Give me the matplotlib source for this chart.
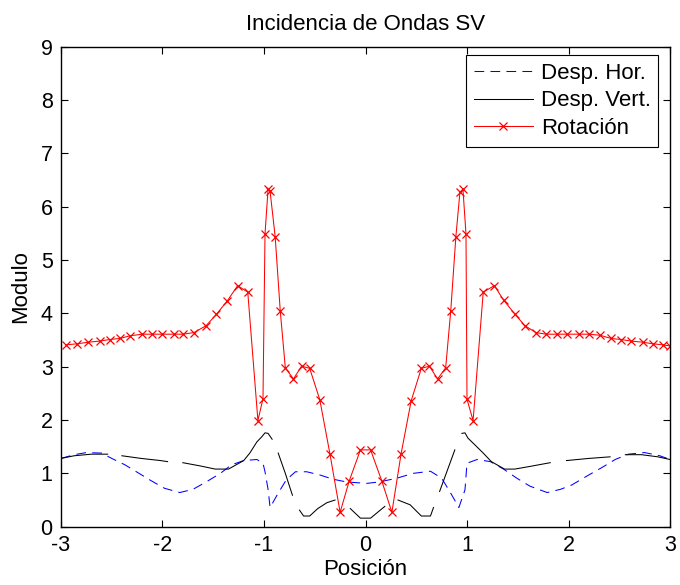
# -*- coding: utf-8 -*-
import matplotlib
matplotlib.use('Agg')
import matplotlib.pyplot as plt
import numpy as np

plt.rcParams['font.family'] = ['Liberation Sans', 'DejaVu Sans']
plt.rcParams['lines.scale_dashes'] = False

# Desplazamiento horizontal (línea azul discontinua)
pos_hor = [-3.0, -2.87, -2.75, -2.60, -2.50, -2.37, -2.24, -2.11, -1.98, -1.83,
           -1.70, -1.56, -1.43, -1.32, -1.20, -1.07, -1.01, -0.99, -0.96, -0.94,
           -0.86, -0.78, -0.69, -0.58, -0.45, -0.32, -0.19, -0.05, 0.0, 0.05,
           0.14, 0.31, 0.47, 0.64, 0.75, 0.83, 0.92, 0.98, 1.00, 1.10,
           1.23, 1.36, 1.49, 1.62, 1.79, 1.92, 2.03, 2.20, 2.33, 2.46,
           2.59, 2.75, 2.90, 3.0]
desp_hor = [1.28, 1.35, 1.39, 1.38, 1.28, 1.16, 1.01, 0.86, 0.72, 0.64,
            0.70, 0.85, 1.00, 1.16, 1.24, 1.26, 1.19, 1.03, 0.70, 0.36,
            0.63, 0.88, 1.03, 1.03, 0.97, 0.89, 0.84, 0.82, 0.81, 0.82,
            0.84, 0.91, 1.00, 1.04, 0.91, 0.66, 0.36, 0.69, 1.19, 1.26,
            1.22, 1.08, 0.91, 0.76, 0.64, 0.70, 0.78, 0.97, 1.11, 1.26,
            1.36, 1.39, 1.33, 1.26]

# Desplazamiento vertical (línea negra, con huecos)
nan = np.nan
pos_vert = [-3.0, -2.87, -2.70, -2.54, nan, -2.40, -2.21, -2.02, -1.95, nan,
            -1.80, -1.63, -1.48, -1.35, -1.20, -1.14, -1.07, -1.02, -0.99, -0.96,
            -0.92, nan, -0.86, -0.79, -0.72, nan, -0.65, -0.61, -0.55, -0.47,
            -0.38, -0.30, nan, -0.15, -0.05, 0.05, 0.19, nan, 0.32, 0.44,
            0.55, 0.64, 0.67, nan, 0.73, 0.88, nan, 0.95, 0.98, 1.01,
            1.08, 1.16, 1.24, 1.37, 1.47, 1.62, 1.82, nan, 1.98, 2.20,
            2.41, nan, 2.56, 2.72, 2.88, 3.0]
desp_vert = [1.28, 1.33, 1.36, 1.36, nan, 1.33, 1.28, 1.24, 1.22, nan,
             1.20, 1.14, 1.08, 1.08, 1.24, 1.38, 1.59, 1.69, 1.76, 1.75,
             1.64, nan, 1.38, 1.00, 0.59, nan, 0.31, 0.20, 0.20, 0.34,
             0.45, 0.50, nan, 0.34, 0.16, 0.16, 0.38, nan, 0.50, 0.41,
             0.20, 0.20, 0.36, nan, 0.66, 1.44, nan, 1.75, 1.76, 1.66,
             1.53, 1.38, 1.22, 1.08, 1.08, 1.13, 1.20, nan, 1.24, 1.28,
             1.31, nan, 1.35, 1.35, 1.31, 1.26]

# Rotación (línea roja con marcadores x)
pos_rot = [-2.95, -2.84, -2.73, -2.62, -2.52, -2.42, -2.32, -2.20, -2.10, -2.00,
           -1.89, -1.80, -1.69, -1.57, -1.47, -1.36, -1.26, -1.16, -1.06, -1.01,
           -0.99, -0.96, -0.94, -0.89, -0.84, -0.79, -0.71, -0.63, -0.55, -0.45,
           -0.35, -0.25, -0.16, -0.05, 0.05, 0.16, 0.26, 0.35, 0.45, 0.55,
           0.63, 0.71, 0.79, 0.84, 0.89, 0.93, 0.96, 0.99, 1.00, 1.06,
           1.16, 1.27, 1.36, 1.47, 1.57, 1.68, 1.78, 1.89, 1.99, 2.10,
           2.20, 2.31, 2.42, 2.52, 2.62, 2.73, 2.83, 2.93, 3.0]
rotacion = [3.41, 3.43, 3.46, 3.48, 3.51, 3.53, 3.58, 3.61, 3.61, 3.61,
            3.61, 3.61, 3.64, 3.77, 3.98, 4.24, 4.52, 4.40, 1.99, 2.40,
            5.49, 6.33, 6.29, 5.44, 4.05, 2.98, 2.77, 3.01, 2.97, 2.38,
            1.36, 0.27, 0.86, 1.44, 1.44, 0.86, 0.27, 1.36, 2.36, 2.97,
            3.01, 2.77, 2.98, 4.05, 5.43, 6.27, 6.33, 5.49, 2.39, 1.99,
            4.40, 4.52, 4.25, 3.99, 3.77, 3.64, 3.61, 3.61, 3.61, 3.61,
            3.61, 3.59, 3.53, 3.51, 3.48, 3.46, 3.43, 3.41, 3.39]

x_ticks = [-3, -2, -1, 0, 1, 2, 3]
y_ticks = [0, 1, 2, 3, 4, 5, 6, 7, 8, 9]

fig = plt.figure(figsize=(6.8, 5.85), dpi=100)
ax = fig.add_axes([0.0897, 0.0997, 0.8956, 0.8203])

ax.plot(pos_hor, desp_hor, color='blue', linewidth=0.75,
        linestyle=(0, (7, 4.5)), label='Desp. Hor.')
ax.plot(pos_vert, desp_vert, color='black', linewidth=0.75, label='Desp. Vert.')
ax.plot(pos_rot, rotacion, color='red', linewidth=0.75, marker='x',
        markersize=6, markeredgewidth=0.9, label='Rotación')

ax.set_xlim(-3, 3)
ax.set_ylim(0, 9)
ax.set_xticks(x_ticks)
ax.set_xticklabels([str(t) for t in x_ticks])
ax.set_yticks(y_ticks)
ax.tick_params(direction='in', length=5, width=0.8, labelsize=15.5,
               top=True, right=True, pad=6)
for s in ax.spines.values():
    s.set_linewidth(1.0)

ax.set_title('Incidencia de Ondas SV', fontsize=16, pad=12)
ax.set_xlabel('Posición', fontsize=16, labelpad=2)
ax.set_ylabel('Modulo', fontsize=16, labelpad=7)

# la leyenda va arriba a la derecha, casi pegada al borde superior
leg = ax.legend(loc='upper right', bbox_to_anchor=(0.981, 0.983),
                bbox_transform=ax.transAxes, borderaxespad=0,
                fontsize=16, fancybox=False, edgecolor='black', framealpha=1,
                handlelength=2.65, handletextpad=0.35, labelspacing=0.3,
                borderpad=0.35)
leg.get_frame().set_linewidth(0.8)

plt.savefig('out.png', dpi=100)
plt.close()
